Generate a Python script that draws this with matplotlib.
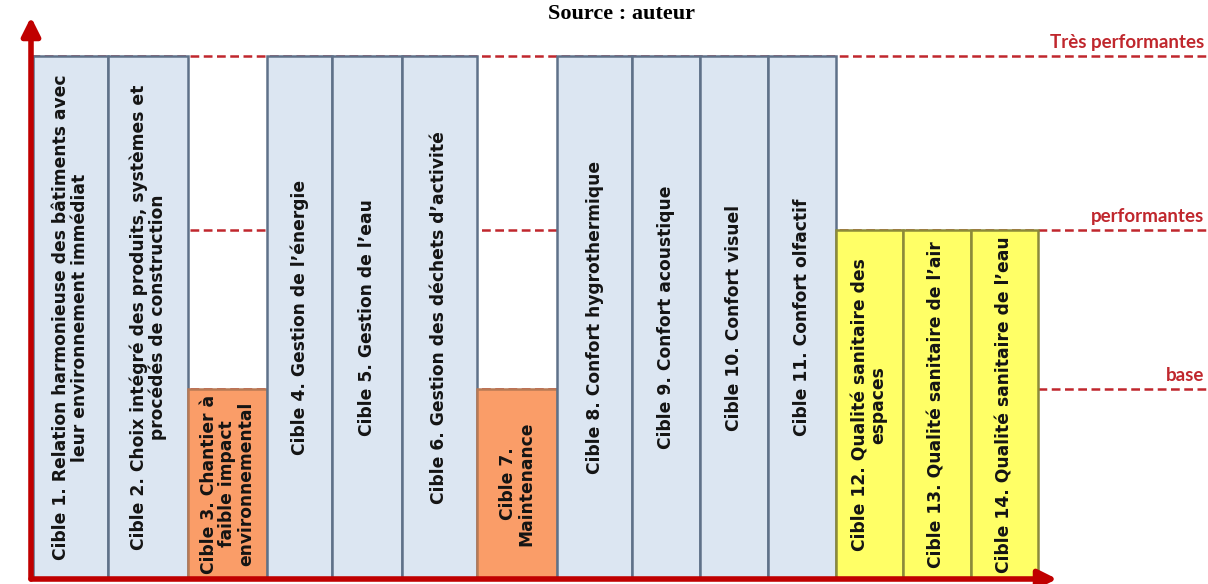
"""HQE targets (cibles) drawn as columns reaching the performance level they aim at."""

import matplotlib
matplotlib.use("Agg")
import matplotlib.pyplot as plt

# --- data ---
LABELS = [
    "Cible 1. Relation harmonieuse des bâtiments avec\nleur environnement immédiat",
    "Cible 2. Choix intégré des produits, systèmes et\nprocédés de construction",
    "Cible 3. Chantier à\nfaible impact\nenvironnemental",
    "Cible 4. Gestion de l’énergie",
    "Cible 5. Gestion de l’eau",
    "Cible 6. Gestion des déchets d’activité",
    "Cible 7.\nMaintenance",
    "Cible 8. Confort hygrothermique",
    "Cible 9. Confort acoustique",
    "Cible 10. Confort visuel",
    "Cible 11. Confort olfactif",
    "Cible 12. Qualité sanitaire des\nespaces",
    "Cible 13. Qualité sanitaire de l’air",
    "Cible 14. Qualité sanitaire de l’eau",
]
TARGET_LEVEL = [
    "Très performantes", "Très performantes", "base",
    "Très performantes", "Très performantes", "Très performantes", "base",
    "Très performantes", "Très performantes", "Très performantes", "Très performantes",
    "performantes", "performantes", "performantes",
]
LEVEL_NAMES = ["Très performantes", "performantes", "base"]
LEVEL_VALUES = [3.0, 2.0, 1.09]
TITLE = "Source : auteur"

# --- layout / style ---
W, H = 1208, 584
X0, Y0 = 31, 579            # pixel position of the axes origin
PX_PER_LEVEL = (Y0 - 56) / 3.0
WIDTHS = [75, 80, 79, 65, 70, 75, 80, 75, 68, 68, 68, 67, 68, 67]
RED = "#C0272D"
AXIS_RED = "#C00000"
STYLE = {
    "Très performantes": ("#DCE6F2", "#5F7189"),
    "performantes": ("#FFFF66", "#8C8A3A"),
    "base": ("#FA9D68", "#B87A55"),
}


def main():
    level_of = dict(zip(LEVEL_NAMES, LEVEL_VALUES))

    fig = plt.figure(figsize=(W / 100, H / 100), dpi=100)
    ax = fig.add_axes([X0 / W, (H - Y0) / H, (W - X0) / W, Y0 / H])
    xmax = W - X0
    ax.set_xlim(0, xmax)
    ax.set_ylim(0, Y0 / PX_PER_LEVEL)
    ax.axis("off")

    # dashed reference levels, behind the columns
    for name, y in zip(LEVEL_NAMES, LEVEL_VALUES):
        ax.hlines(y, 0, xmax, colors=RED, linestyles=(0, (3.5, 1.8)), lw=1.8, zorder=1)
        ax.text(xmax - 4, y + 0.03, name, ha="right", va="bottom", color=RED,
                fontsize=13.5, fontweight="bold", family="Lato", zorder=3)

    left = 2
    for label, lvl, w in zip(LABELS, TARGET_LEVEL, WIDTHS):
        h = level_of[lvl]
        face, edge = STYLE[lvl]
        ax.bar(left, h, width=w, align="edge", color=face, edgecolor=edge, lw=1.8, zorder=2)
        ax.text(left + w / 2, h / 2, label, rotation=90, ha="center", va="center",
                multialignment="center", fontsize=12.3, fontweight="bold",
                family="DejaVu Sans", color="#141414", linespacing=1.02, zorder=3)
        left += w

    # axis arrows
    arrow = dict(arrowstyle="-|>,head_length=1.1,head_width=0.55", lw=4,
                 color=AXIS_RED, shrinkA=0, shrinkB=0)
    ax.annotate("", xy=(0, (Y0 - 17) / PX_PER_LEVEL), xytext=(0, 0),
                arrowprops=arrow, annotation_clip=False, zorder=4)
    ax.annotate("", xy=(1057 - X0, 0), xytext=(0, 0),
                arrowprops=arrow, annotation_clip=False, zorder=4)

    fig.text(621 / W, 1 - 14 / H, TITLE, ha="center", va="center",
             family="Liberation Serif", fontweight="bold", fontsize=16)

    fig.savefig("out.png", dpi=100)
    plt.close(fig)


if __name__ == "__main__":
    main()
